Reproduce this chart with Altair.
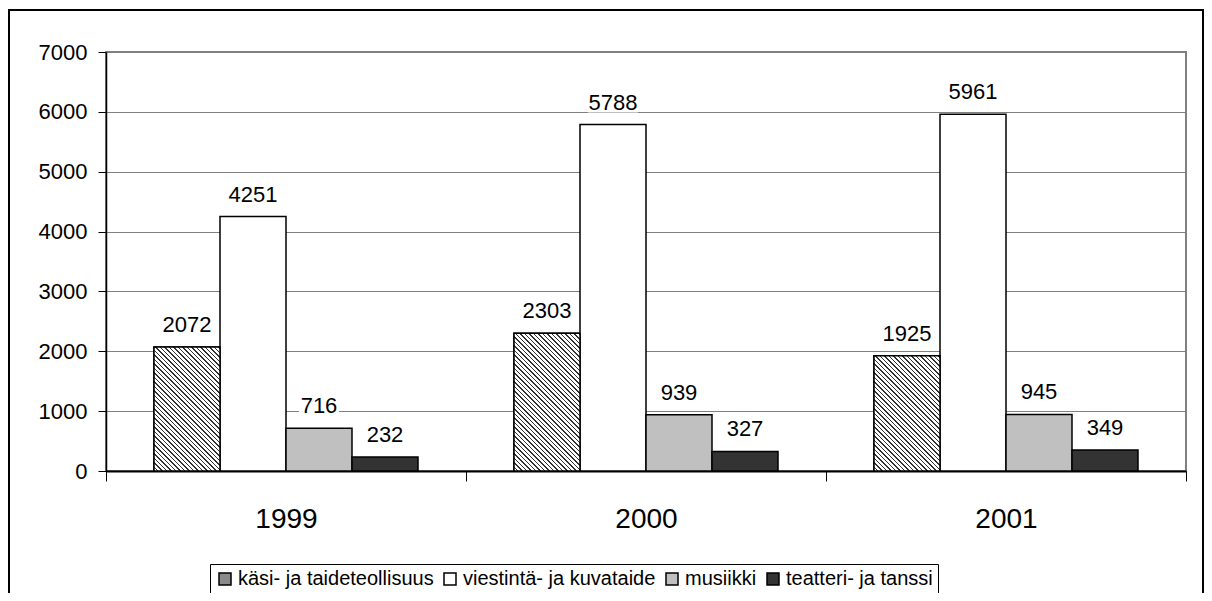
import altair as alt
import pandas as pd

years = ["1999", "2000", "2001"]
series = ["käsi- ja taideteollisuus", "viestintä- ja kuvataide", "musiikki", "teatteri- ja tanssi"]
kasi = [2072, 2303, 1925]
viestinta = [4251, 5788, 5961]
musiikki = [716, 939, 945]
teatteri = [232, 327, 349]
y_ticks = [0, 1000, 2000, 3000, 4000, 5000, 6000, 7000]
colors = ["#8a8a8a", "#ffffff", "#c0c0c0", "#333333"]

rows = []
for s, vals in zip(series, [kasi, viestinta, musiikki, teatteri]):
    for yr, v in zip(years, vals):
        rows.append({"year": yr, "series": s, "value": v})
df = pd.DataFrame(rows)

W, H = 1080, 419
YMAX = 7000
PO = 0.7273
FONT = "Liberation Sans"
bar_w = (W / len(years)) / (len(series) + 2 * PO)


def hatch(v, period=4.5, ink=0.3, ink_color="#333333"):
    h = v / YMAX * H
    w = bar_w
    d = w * w + h * h
    dt = w * period / d
    tmax = w * (w + h) / d
    stops = []
    k = 0
    while k * dt <= min(tmax + dt, 1.0):
        a = k * dt
        b = min(a + (1 - ink) * dt, 1.0)
        c = min(a + dt, 1.0)
        stops += [
            {"offset": round(a, 6), "color": "#ffffff"},
            {"offset": round(b, 6), "color": "#ffffff"},
            {"offset": round(b, 6), "color": ink_color},
            {"offset": round(c, 6), "color": ink_color},
        ]
        k += 1
    return {"gradient": "linear", "x1": 0, "y1": 1, "x2": 1, "y2": round(1 - h / w, 6), "stops": stops}


x_enc = alt.X(
    "year:N",
    sort=years,
    scale=alt.Scale(domain=years, paddingInner=0, paddingOuter=0),
    axis=alt.Axis(
        title=None, labelAngle=0, tickBand="extent", tickSize=10, tickColor="black",
        tickWidth=1, domainColor="black", domainWidth=2, labelFontSize=28,
        labelFont=FONT, labelColor="black", labelPadding=24,
    ),
)
xo_enc = alt.XOffset(
    "series:N", sort=series, scale=alt.Scale(domain=series, paddingInner=0, paddingOuter=PO)
)
y_enc = alt.Y(
    "value:Q",
    scale=alt.Scale(domain=[0, YMAX], nice=False),
    axis=alt.Axis(
        title=None, values=y_ticks, format="d", tickSize=8, tickColor="black", tickWidth=1,
        domainColor="black", domainWidth=1.5, gridColor="#808080", gridWidth=1,
        labelFontSize=22, labelFont=FONT, labelColor="black", labelPadding=11,
    ),
)

frame = alt.Chart(pd.DataFrame({"k": [0]})).mark_rect(
    fillOpacity=0, stroke="black", strokeWidth=2
).encode(x=alt.value(-97), x2=alt.value(1097), y=alt.value(-42), y2=alt.value(600))

bars = alt.Chart(df).mark_bar(stroke="black", strokeWidth=1.5).encode(
    x=x_enc,
    xOffset=xo_enc,
    y=y_enc,
    fill=alt.Fill(
        "series:N",
        scale=alt.Scale(domain=series, range=colors),
        legend=alt.Legend(
            title=None, orient="none", legendX=104, legendY=512, direction="horizontal",
            columns=4, symbolType="square", symbolSize=144, symbolStrokeColor="black",
            symbolStrokeWidth=1.5, symbolOpacity=1, labelFontSize=20, labelFont=FONT,
            labelColor="black", labelOffset=3, columnPadding=6, padding=5,
            strokeColor="black", fillColor="white", labelLimit=500,
        ),
    ),
)

hatched = []
for i, yr in enumerate(years):
    hatched.append(
        alt.Chart(df)
        .transform_filter((alt.datum.series == series[0]) & (alt.datum.year == yr))
        .mark_bar(fill=hatch(kasi[i]), stroke="black", strokeWidth=1.5)
        .encode(x=x_enc, xOffset=xo_enc, y=y_enc)
    )

boxes = alt.Chart(df).transform_calculate(
    box="length(toString(datum.value)) >= 4 ? 2500 : 1600"
).mark_point(
    shape="M-1,-0.4H1V0.4H-1Z", filled=True, fill="white", opacity=1, strokeWidth=0, yOffset=-22
).encode(x=x_enc, xOffset=xo_enc, y=y_enc, size=alt.Size("box:Q", scale=None))

labels = alt.Chart(df).mark_text(
    dy=-22, baseline="middle", align="center", fontSize=22, font=FONT, color="black"
).encode(x=x_enc, xOffset=xo_enc, y=y_enc, text=alt.Text("value:Q", format="d"))

chart = alt.layer(frame, bars, *hatched, boxes, labels).properties(
    width=W,
    height=H,
    autosize=alt.AutoSizeParams(type="none"),
    padding={"left": 98, "top": 44, "right": 18, "bottom": 122},
).configure(font=FONT).configure_view(stroke="#808080", strokeWidth=2)

chart.save("out.html", embed_options={"renderer": "svg", "actions": False})
